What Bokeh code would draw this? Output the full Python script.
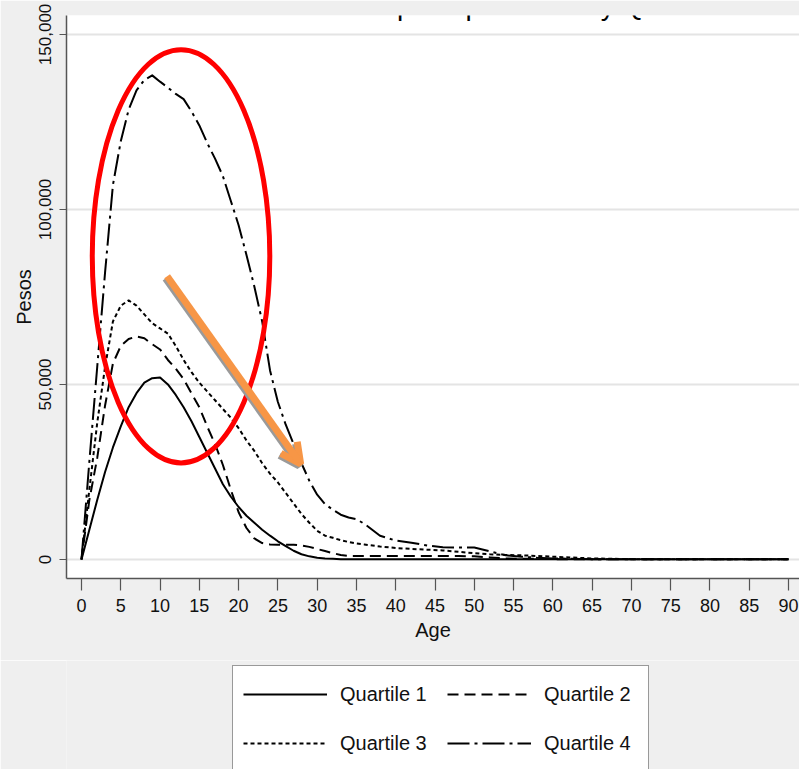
from bokeh.plotting import figure
from bokeh.layouts import column
from bokeh.models import (Range1d, FixedTicker, Legend, LegendItem, Label, Arrow,
                          OpenHead, NumeralTickFormatter)
from bokeh.embed import file_html
from bokeh.resources import INLINE

# ---------------- data (pesos) ----------------
ages = list(range(0, 37)) + list(range(38, 61, 2)) + list(range(65, 91, 5))

q1_k = [0, 8.5, 17, 25, 32, 38, 43.5, 47.5, 50.5, 51.8, 52, 50, 47, 43.5, 39.5, 35, 30.5, 26,
        21.5, 18, 15, 12.5, 10.5, 8.5, 6.8, 5.2, 3.8, 2.5, 1.5, 0.9, 0.5, 0.3, 0.2, 0.1, 0.1, 0.1, 0.1,
        0.1, 0.1, 0.1, 0.1, 0.1, 0.1, 0.1, 0.1, 0.1, 0.1, 0.1, 0.1,
        0.1, 0.1, 0.1, 0.1, 0.1, 0.1]
q2_k = [0, 17, 29, 44, 56, 61, 63, 63.7, 63.2, 61.5, 60, 57, 54.5, 51.5, 47.5, 43.5, 38, 33,
        27, 20, 13.5, 9, 6, 4.7, 4.3, 4.2, 4.2, 4.2, 4.0, 3.6, 3.0, 2.4, 1.8, 1.3, 1.0, 1.0, 1.0,
        1.0, 1.0, 1.0, 1.0, 1.0, 1.0, 0.9, 0.6, 0.3, 0.2, 0.2, 0.1,
        0.1, 0.1, 0.1, 0.1, 0.1, 0.1]
q3_k = [0, 20, 39, 55, 68, 72.5, 74, 72.5, 70, 67.5, 66, 64.5, 61, 57, 53.5, 50.5, 48, 45.5,
        43, 40.5, 37.5, 34, 31, 27.5, 24.5, 22, 19, 16, 13, 10.5, 8.2, 6.8, 6.2, 5.5, 5.0, 4.6, 4.3,
        3.7, 3.3, 3.0, 2.8, 2.6, 2.2, 1.8, 1.5, 1.3, 1.2, 1.0, 0.8,
        0.3, 0.1, 0.1, 0.1, 0.1, 0.1]
q4_k = [0, 28, 55, 82, 107, 119.5, 128.5, 134, 137, 138.3, 136.5, 134.8, 133, 131.5, 128, 124,
        119, 114.5, 109.5, 102.5, 95.5, 87, 78, 68, 54, 45, 38.5, 33, 27.5, 22.5, 18.5, 15.8, 14.2,
        12.8, 12.0, 11.5, 10.2,
        6.8, 5.4, 4.8, 4.0, 3.5, 3.4, 3.4, 2.3, 1.2, 0.8, 0.5, 0.3,
        0.1, 0.1, 0.1, 0.1, 0.1, 0.1]

series_names = ["Quartile 1", "Quartile 2", "Quartile 3", "Quartile 4"]
x_ticks = list(range(0, 91, 5))
y_ticks = [0, 50000, 100000, 150000]
title_text = "Education Consumption per Child by Quartile"

# annotation shapes (age, pesos)
ell_x, ell_y, ell_w, ell_h = 12.67, 86600, 22.6, 118100
arr_x0, arr_y0, arr_x1, arr_y1 = 10.9, 80900, 27.9, 27300

FONT = "'Liberation Sans Narrow', 'Arial Narrow', 'Liberation Sans', Arial, sans-serif"
BG = "#efefef"

series = [[v * 1000 for v in s] for s in (q1_k, q2_k, q3_k, q4_k)]
dashes = ["solid", "11 6", "4 3", "22 5 3 5"]

p = figure(width=799, height=660, output_backend="svg", toolbar_location=None,
           x_range=Range1d(-1.91, 91.4), y_range=Range1d(-5430, 155400),
           min_border_left=66, min_border_right=0, min_border_top=15, min_border_bottom=82)
p.border_fill_color = BG
p.background_fill_color = "white"
p.outline_line_color = None

# grid
p.xgrid.visible = False
p.ygrid.ticker = FixedTicker(ticks=y_ticks)
p.ygrid.grid_line_color = "#e4e4e4"
p.ygrid.grid_line_width = 2

# axes
for ax in (p.xaxis[0], p.yaxis[0]):
    ax.axis_line_color = "#555555"
    ax.axis_line_width = 1.5
    ax.major_tick_line_color = "#555555"
    ax.major_tick_line_width = 1.2
    ax.major_tick_in = 0
    ax.minor_tick_line_color = None
    ax.major_label_text_font = FONT
    ax.major_label_text_color = "#111111"
    ax.axis_label_text_font = FONT
    ax.axis_label_text_font_style = "normal"
    ax.axis_label_text_color = "#111111"

p.xaxis.ticker = FixedTicker(ticks=x_ticks)
p.xaxis.major_tick_out = 12
p.xaxis.major_label_standoff = 8
p.xaxis.major_label_text_font_size = "18px"
p.xaxis.axis_label = "Age"
p.xaxis.axis_label_text_font_size = "20px"
p.xaxis.axis_label_standoff = 4

p.yaxis.ticker = FixedTicker(ticks=y_ticks)
p.yaxis.formatter = NumeralTickFormatter(format="0,0")
p.yaxis.major_tick_out = 7
p.yaxis.major_label_standoff = 8
p.yaxis.major_label_orientation = "vertical"
p.yaxis.major_label_text_font_size = "17px"
p.yaxis.axis_label = "Pesos"
p.yaxis.axis_label_text_font_size = "20px"
p.yaxis.axis_label_standoff = 2

# series
for vals, dash in zip(series, dashes):
    p.line(ages, vals, line_color="black", line_width=2, line_dash=dash, line_join="round")

# annotations: red ellipse and orange arrow with grey shadow
p.ellipse(x=[ell_x], y=[ell_y], width=[ell_w], height=[ell_h], fill_alpha=0,
          line_color="#ff0000", line_width=5)
shadow = Arrow(x_start=arr_x0 - 0.2, y_start=arr_y0 - 600, x_end=arr_x1 - 0.2, y_end=arr_y1 - 600,
               line_color="#9a9a9a", line_width=7,
               end=OpenHead(size=20, line_color="#9a9a9a", line_width=7))
arrow = Arrow(x_start=arr_x0, y_start=arr_y0, x_end=arr_x1, y_end=arr_y1,
              line_color="#F79646", line_width=7,
              end=OpenHead(size=20, line_color="#F79646", line_width=7))
p.add_layout(shadow)
p.add_layout(arrow)

# title, mostly above the visible area as in the reference
p.add_layout(Label(x=374, y=573.5, x_units="screen", y_units="screen", text=title_text,
                   text_align="center", text_baseline="alphabetic", text_font=FONT,
                   text_font_size="28px", text_color="black"))

# ---------------- legend strip below the chart ----------------
lg = figure(width=799, height=109, output_backend="svg", toolbar_location=None,
            x_axis_type=None, y_axis_type=None,
            min_border_left=66, min_border_right=0, min_border_top=0, min_border_bottom=0,
            x_range=Range1d(0, 1), y_range=Range1d(0, 1))
lg.background_fill_color = BG
lg.border_fill_color = BG
lg.outline_line_color = None
lg.xgrid.visible = False
lg.ygrid.visible = False
# legend-only renderers, placed outside the visible range
dummies = [lg.line([-5, -4], [-5, -4], line_color="black", line_width=2, line_dash=d) for d in dashes]

legend = Legend(items=[LegendItem(label=n, renderers=[r]) for n, r in zip(series_names, dummies)],
                location=(166, -3), orientation="horizontal", ncols=2,
                border_line_color="#333333", border_line_width=1,
                background_fill_color="white", background_fill_alpha=1,
                label_text_font=FONT, label_text_font_size="20px", label_text_color="#111111",
                glyph_width=84, glyph_height=36, label_height=36, label_standoff=13,
                label_width=94, spacing=13, padding=10, margin=0)
lg.add_layout(legend)

layout = column(p, lg, spacing=0)
open("out.html", "w").write(file_html(layout, INLINE))
